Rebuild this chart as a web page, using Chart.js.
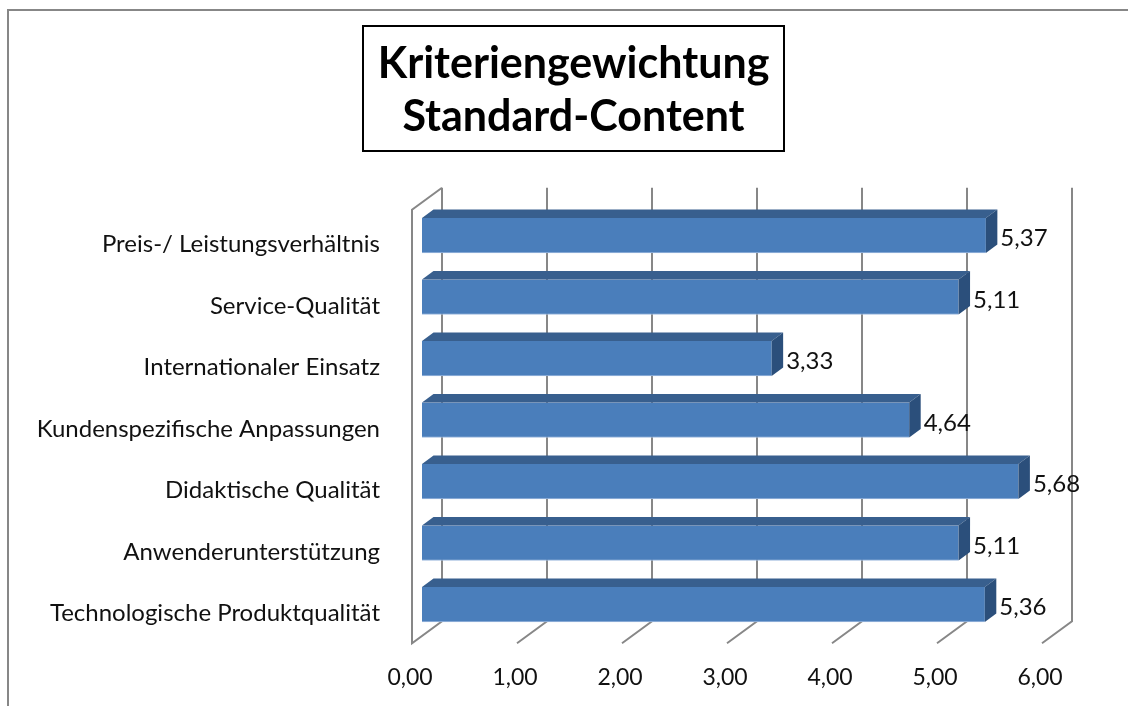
<!DOCTYPE html>
<html>
<head>
<meta charset="utf-8">
<script src="https://cdn.jsdelivr.net/npm/chart.js@4"></script>
<style>
  html, body { margin: 0; padding: 0; background: #fff; }
  #wrap { width: 1128px; height: 706px; position: relative; }
</style>
</head>
<body>
<div id="wrap"><canvas id="chart"></canvas></div>
<script>
const titleLines = ['Kriteriengewichtung', 'Standard-Content'];
const categories = [
  'Preis-/ Leistungsverhältnis',
  'Service-Qualität',
  'Internationaler Einsatz',
  'Kundenspezifische Anpassungen',
  'Didaktische Qualität',
  'Anwenderunterstützung',
  'Technologische Produktqualität'
];
const values = [5.37, 5.11, 3.33, 4.64, 5.68, 5.11, 5.36];
const axisMin = 0;
const axisMax = 6;
const axisStep = 1;

const FONT = 'Lato, "Noto Sans", sans-serif';
const TEXT = '#111';
const GRID = '#878787';
const fmt = v => v.toFixed(2).replace('.', ',');

// depth of the 3D box and of the bars
const WALL_DX = 30, WALL_DY = -22;
const BAR_DX = 11.5, BAR_DY = -8.5;
const FRONT_SHIFT = -10;   // front edge of the floor lies left of the bar faces

const frame3d = {
  id: 'frame3d',
  beforeDraw(chart) {
    const ctx = chart.ctx;
    ctx.save();
    // outer chart border (cut off at right/bottom)
    ctx.strokeStyle = GRID;
    ctx.lineWidth = 2;
    ctx.strokeRect(8, 10, 1300, 900);

    // title in a box
    ctx.font = 'bold 43px ' + FONT;
    ctx.fillStyle = '#000';
    ctx.textAlign = 'center';
    ctx.textBaseline = 'middle';
    const cx = 573.5;
    ctx.fillText(titleLines[0], cx, 64);
    ctx.fillText(titleLines[1], cx, 117);
    ctx.strokeStyle = '#000';
    ctx.lineWidth = 2;
    ctx.strokeRect(363, 26, 421, 125);
    ctx.restore();
  },
  beforeDatasetsDraw(chart) {
    const {ctx, chartArea, scales: {x}} = chart;
    const yF = chartArea.bottom + 8;
    const yTopF = chartArea.top + 5;
    const fx = v => x.getPixelForValue(v) + FRONT_SHIFT;
    ctx.save();
    ctx.strokeStyle = GRID;
    ctx.lineWidth = 2;
    // left side wall
    const x0 = fx(axisMin);
    ctx.beginPath();
    ctx.moveTo(x0 + WALL_DX, yTopF + WALL_DY);
    ctx.lineTo(x0, yTopF);
    ctx.lineTo(x0, yF);
    ctx.lineTo(x0 + WALL_DX, yF + WALL_DY);
    ctx.lineTo(x0 + WALL_DX, yTopF + WALL_DY);
    ctx.stroke();
    // back wall gridlines and floor ticks
    for (let v = axisMin + axisStep; v <= axisMax; v += axisStep) {
      const xf = fx(v);
      ctx.beginPath();
      ctx.moveTo(xf, yF);
      ctx.lineTo(xf + WALL_DX, yF + WALL_DY);
      ctx.lineTo(xf + WALL_DX, yTopF + WALL_DY);
      ctx.stroke();
    }
    ctx.restore();
  },
  afterDatasetsDraw(chart) {
    const ctx = chart.ctx;
    const meta = chart.getDatasetMeta(0);
    ctx.save();
    meta.data.forEach((bar, i) => {
      const {x, y, base, height} = bar.getProps(['x', 'y', 'base', 'height'], true);
      const top = y - height / 2, bottom = y + height / 2;
      // top face
      ctx.fillStyle = '#385f8e';
      ctx.beginPath();
      ctx.moveTo(base, top);
      ctx.lineTo(x, top);
      ctx.lineTo(x + BAR_DX, top + BAR_DY);
      ctx.lineTo(base + BAR_DX, top + BAR_DY);
      ctx.closePath();
      ctx.fill();
      // end face
      ctx.fillStyle = '#2b4f7b';
      ctx.beginPath();
      ctx.moveTo(x, top);
      ctx.lineTo(x + BAR_DX, top + BAR_DY);
      ctx.lineTo(x + BAR_DX, bottom + BAR_DY);
      ctx.lineTo(x, bottom);
      ctx.closePath();
      ctx.fill();
      // value label
      ctx.fillStyle = TEXT;
      ctx.font = '24px ' + FONT;
      ctx.textAlign = 'left';
      ctx.textBaseline = 'middle';
      ctx.fillText(fmt(values[i]), x + BAR_DX + 3, y + 3);
    });
    ctx.restore();
  }
};

Chart.defaults.font.family = FONT;
Chart.defaults.color = TEXT;

new Chart(document.getElementById('chart'), {
  type: 'bar',
  data: {
    labels: categories,
    datasets: [{
      data: values,
      backgroundColor: '#4a7ebb',
      borderColor: '#9cb8de',
      borderWidth: {top: 0, left: 0, right: 0, bottom: 1},
      borderSkipped: false,
      barThickness: 35
    }]
  },
  options: {
    indexAxis: 'y',
    responsive: true,
    maintainAspectRatio: false,
    animation: false,
    layout: {padding: {top: 204.75, left: 0, right: 76, bottom: 10.75}},
    plugins: {
      legend: {display: false},
      tooltip: {enabled: false},
      title: {display: false}
    },
    scales: {
      x: {
        min: axisMin,
        max: axisMax,
        grid: {display: false, drawTicks: false},
        border: {display: false},
        afterFit: scale => { scale.height = 60; },
        ticks: {
          stepSize: axisStep,
          padding: 29,
          labelOffset: FRONT_SHIFT - 2,
          font: {size: 23},
          callback: v => fmt(v)
        }
      },
      y: {
        grid: {display: false, drawTicks: false},
        border: {display: false},
        afterFit: scale => { scale.width = 422; },
        ticks: {
          padding: 42,
          labelOffset: 9,
          font: {size: 24}
        }
      }
    }
  },
  plugins: [frame3d]
});
</script>
</body>
</html>
